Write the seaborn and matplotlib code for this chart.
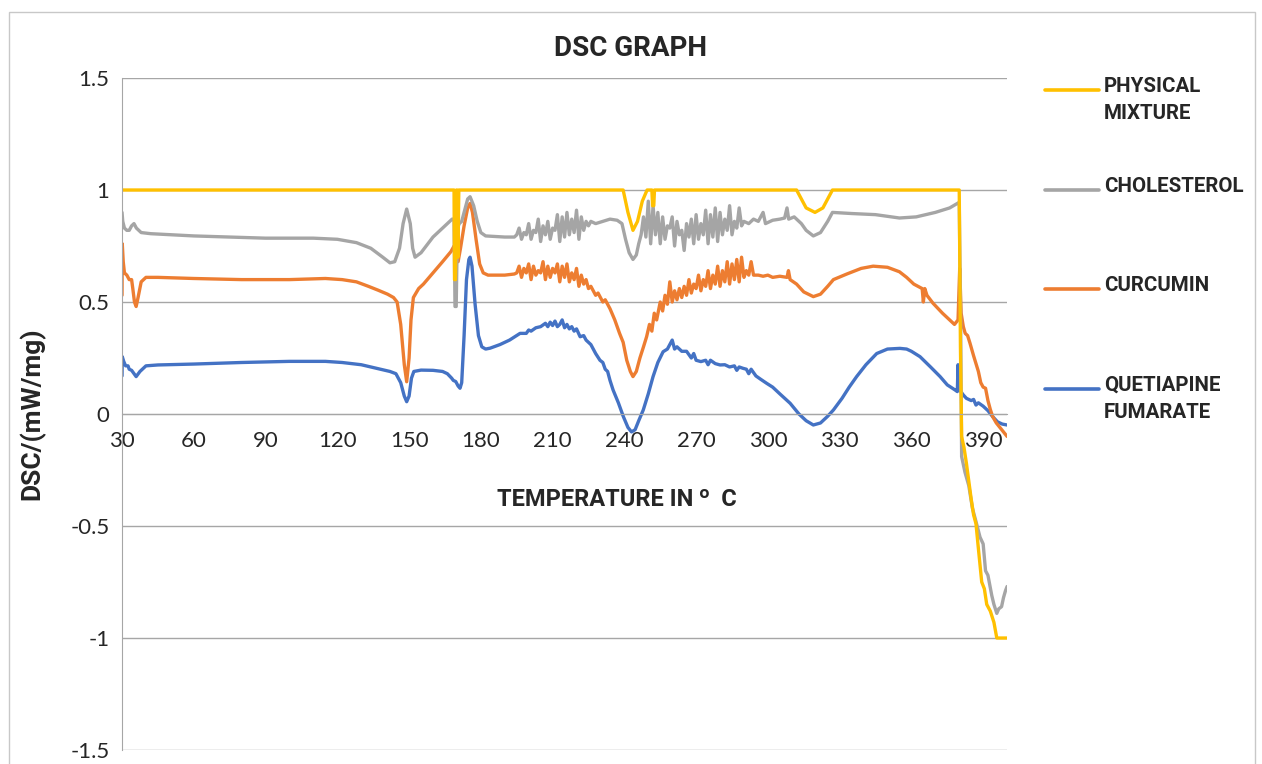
import pandas as pd
import matplotlib.pyplot as plt
import seaborn as sns
from matplotlib.lines import Line2D
from matplotlib.patches import Rectangle

# ---- data (temperature in C, DSC in mW/mg) ----
pm_temp = [30, 168.8, 169.0, 169.4, 169.8, 170.0, 170.4, 170.8, 239.5, 241.5, 243.6, 245.5, 247.5,
           249.5, 251.5, 251.8, 252.3, 252.6, 312, 314, 316, 319.7, 323, 325, 327, 380.0, 380.5, 381,
           382, 383, 384, 385, 386, 387, 388, 389.4, 390.5, 391.5, 393, 394.5, 395.7, 400]
pm_dsc = [1, 1, 0.6, 0.6, 1, 1, 0.7, 1, 1, 0.9, 0.82, 0.86, 0.95,
          1, 1, 0.93, 0.93, 1, 1, 0.96, 0.92, 0.9, 0.92, 0.96, 1, 1, 0.3, -0.1,
          -0.15, -0.22, -0.3, -0.38, -0.45, -0.49, -0.6, -0.75, -0.78, -0.85, -0.88, -0.93, -1.0, -1.0]

chol_temp = [30, 30.3, 31, 32, 33, 34, 35, 36, 38, 42, 60, 90, 110, 120, 128, 134, 139, 142, 144, 146,
             147.5, 149, 150.5, 151.5, 152.5, 155, 160, 164, 168, 168.8, 169.2, 169.7, 170.2, 171, 172,
             173, 174.5, 175.5, 177, 178.5, 180, 182, 190, 194,
             195, 196, 197, 198, 199, 200, 201, 202, 203, 204, 205, 206, 207, 208, 209, 210, 211, 212,
             213, 214, 215, 216, 217, 218, 219, 220, 221, 222, 223, 224, 225, 226, 228, 231, 234, 237,
             239, 240.5, 242, 243.6, 245, 246, 247, 248, 249, 250, 251, 252, 253, 254, 255, 256, 257,
             258, 259, 260, 261, 262, 263, 264, 265, 266, 267, 268, 269, 270, 271, 272, 273, 274, 275,
             276, 277, 278, 279, 280, 281, 282, 283, 284, 285, 286, 287, 288, 289, 290, 292, 294, 296,
             298, 299, 302, 305, 307, 308, 308.7, 311, 314, 316, 319, 322, 325, 327, 335, 345, 355, 362,
             370, 376, 380, 380.6, 381, 382.4, 384, 385.5, 387, 388.7, 390, 391, 392, 393.6, 394.5,
             395.7, 396.5, 397.7, 398.5, 399.3, 400]
chol_dsc = [0.90, 0.86, 0.83, 0.82, 0.82, 0.84, 0.85, 0.83, 0.81, 0.805, 0.795, 0.785, 0.785, 0.78,
            0.765, 0.74, 0.70, 0.675, 0.68, 0.74, 0.85, 0.915, 0.85, 0.74, 0.70, 0.72, 0.79, 0.83,
            0.87, 0.87, 0.48, 0.48, 0.83, 0.85, 0.86, 0.90, 0.96, 0.97, 0.93, 0.86, 0.81, 0.795,
            0.79, 0.79,
            0.80, 0.83, 0.78, 0.81, 0.80, 0.85, 0.78, 0.82, 0.81, 0.87, 0.77, 0.84, 0.80, 0.86, 0.78,
            0.83, 0.82, 0.89, 0.77, 0.88, 0.79, 0.90, 0.80, 0.87, 0.81, 0.91, 0.78, 0.88, 0.82, 0.86,
            0.84, 0.86, 0.85, 0.86, 0.87, 0.865, 0.85, 0.78, 0.72, 0.69, 0.71, 0.76, 0.80, 0.88, 0.79,
            0.95, 0.76, 0.93, 0.80, 0.90, 0.76, 0.88, 0.78, 0.84, 0.83, 0.88, 0.75, 0.86, 0.80, 0.82,
            0.73, 0.85, 0.79, 0.87, 0.76, 0.89, 0.78, 0.85, 0.80, 0.91, 0.76, 0.89, 0.79, 0.92, 0.77,
            0.90, 0.80, 0.87, 0.82, 0.93, 0.80, 0.86, 0.83, 0.92, 0.84, 0.86, 0.85, 0.87, 0.86, 0.90,
            0.85, 0.865, 0.87, 0.875, 0.92, 0.87, 0.88, 0.85, 0.82, 0.795, 0.81, 0.86, 0.90, 0.895,
            0.89, 0.875, 0.88, 0.90, 0.92, 0.945, 0.4, -0.19, -0.26, -0.32, -0.42, -0.48, -0.55,
            -0.58, -0.70, -0.72, -0.81, -0.85, -0.89, -0.87, -0.86, -0.82, -0.79, -0.77]

curc_temp = [30, 30.1, 30.5, 31, 32, 33, 34, 34.5, 35.2, 35.9, 36.7, 38, 40, 45, 60, 80, 100, 115, 122,
             128, 133, 137, 141, 143.5, 145, 146.5, 148, 149, 150, 150.8, 151.8, 154, 156, 160, 164,
             167.5, 168.8, 169.5, 170.5, 171.5, 173, 174.5, 175.5, 176.5, 178, 179.5, 181, 183, 190,
             194, 195, 196, 197, 198, 199, 200, 201, 202, 203, 204, 205, 206, 207, 208, 209, 210, 211,
             212, 213, 214, 215, 216, 217, 218, 219, 220, 221, 222, 223, 224, 225, 226, 228, 229, 231,
             232, 234, 236, 238, 239.5, 241, 242.5, 243.6, 245, 246.5, 248, 249.3, 250.5, 251.5, 252.5,
             253.5, 255, 256, 257, 258, 259, 260, 261, 262, 263, 264, 265, 266, 267, 268, 269, 270, 271,
             272, 273, 274, 275, 276, 277, 278, 279, 280, 281, 282, 283, 284, 285, 286, 287, 288, 289,
             290, 291, 292, 293, 294, 296, 298, 300, 302, 305, 308, 308.6, 309.3, 312, 315, 319, 322,
             325, 327.4, 333, 339, 344, 350, 355, 358, 361, 364.5, 365, 365.6, 366.5, 369, 373, 376,
             378, 379.5, 380.2, 380.8, 381.7, 382.5, 383.5, 384.5, 386, 388, 389, 390, 391, 392, 393,
             394, 395.5, 397, 398.5, 400]
curc_dsc = [0.53, 0.76, 0.68, 0.63, 0.62, 0.60, 0.60, 0.56, 0.50, 0.48, 0.52, 0.59, 0.61, 0.61, 0.605,
            0.60, 0.60, 0.605, 0.60, 0.59, 0.57, 0.553, 0.535, 0.52, 0.50, 0.40, 0.22, 0.144, 0.25,
            0.42, 0.52, 0.56, 0.58, 0.63, 0.68, 0.725, 0.75, 0.74, 0.68, 0.74, 0.84, 0.92, 0.94, 0.90,
            0.78, 0.67, 0.63, 0.62, 0.62, 0.625, 0.63, 0.66, 0.61, 0.65, 0.63, 0.67, 0.60, 0.66, 0.62,
            0.64, 0.63, 0.68, 0.60, 0.66, 0.61, 0.65, 0.63, 0.67, 0.59, 0.66, 0.61, 0.67, 0.59, 0.63,
            0.60, 0.65, 0.57, 0.62, 0.58, 0.60, 0.56, 0.57, 0.53, 0.54, 0.50, 0.51, 0.47, 0.42, 0.36,
            0.32, 0.24, 0.19, 0.167, 0.19, 0.25, 0.30, 0.345, 0.40, 0.37, 0.45, 0.42, 0.50, 0.46, 0.53,
            0.49, 0.59, 0.50, 0.55, 0.51, 0.56, 0.52, 0.57, 0.53, 0.60, 0.54, 0.58, 0.56, 0.62, 0.55,
            0.60, 0.57, 0.64, 0.56, 0.62, 0.58, 0.66, 0.57, 0.64, 0.59, 0.68, 0.58, 0.67, 0.60, 0.69,
            0.59, 0.70, 0.61, 0.64, 0.62, 0.68, 0.62, 0.62, 0.615, 0.62, 0.61, 0.615, 0.61, 0.64, 0.60,
            0.58, 0.545, 0.524, 0.535, 0.57, 0.60, 0.625, 0.65, 0.66, 0.655, 0.635, 0.61, 0.58, 0.56,
            0.50, 0.56, 0.53, 0.495, 0.45, 0.42, 0.40, 0.42, 0.65, 0.45, 0.39, 0.36, 0.35, 0.316, 0.26,
            0.19, 0.14, 0.12, 0.115, 0.06, 0.02, -0.012, -0.04, -0.06, -0.08, -0.10]

quet_temp = [30, 30.1, 30.7, 31.5, 32.5, 33, 34, 35.9, 37.5, 40, 45, 60, 80, 100, 115, 122, 130, 136.5,
             142, 144.5, 146.5, 148, 149, 150, 151, 152, 155, 160, 164, 166, 167.8, 168.5, 169.5, 170.5,
             171.3, 172, 173, 174, 175, 175.5, 176.3, 177.6, 179, 180.4, 182, 183.9, 188, 192, 196.4,
             199, 200, 201, 203, 205, 207, 208, 209, 210, 211, 212, 213, 214, 215, 216, 217, 218, 219,
             220, 221.5, 223, 224, 226, 228, 229.8, 231, 232, 233, 234, 235.3, 237.5, 239.6, 241.5, 243,
             244.5, 246, 247.9, 250, 252, 254, 256.2, 258, 259, 260, 261, 262, 264, 266, 268, 269, 270,
             272, 274, 275, 276, 278, 280, 282, 284, 286, 287, 288, 289.6, 291, 292, 293, 295, 297,
             299.5, 302, 305, 309.3, 313, 316, 319, 322, 325, 327.4, 331, 334, 337.1, 341, 345.5, 350,
             355.2, 358, 360, 363.6, 368, 372, 375, 378.3, 379.2, 379.5, 380.0, 381.7, 383, 385, 386,
             387, 388, 390, 392, 394, 396, 398, 400]
quet_dsc = [0.17, 0.256, 0.235, 0.215, 0.215, 0.20, 0.195, 0.167, 0.19, 0.215, 0.219, 0.223, 0.23, 0.235,
            0.235, 0.23, 0.22, 0.204, 0.19, 0.18, 0.14, 0.08, 0.055, 0.08, 0.16, 0.19, 0.196, 0.195,
            0.19, 0.18, 0.16, 0.15, 0.145, 0.125, 0.115, 0.14, 0.35, 0.60, 0.69, 0.70, 0.66, 0.49, 0.35,
            0.30, 0.29, 0.294, 0.31, 0.33, 0.36, 0.36, 0.375, 0.37, 0.385, 0.39, 0.405, 0.39, 0.41,
            0.395, 0.415, 0.39, 0.40, 0.42, 0.385, 0.40, 0.38, 0.39, 0.37, 0.38, 0.345, 0.35, 0.33,
            0.31, 0.27, 0.24, 0.23, 0.20, 0.19, 0.15, 0.107, 0.05, -0.012, -0.06, -0.08, -0.07, -0.03,
            0.018, 0.09, 0.167, 0.23, 0.278, 0.29, 0.31, 0.33, 0.29, 0.30, 0.28, 0.28, 0.25, 0.27, 0.24,
            0.234, 0.24, 0.22, 0.24, 0.225, 0.219, 0.22, 0.21, 0.215, 0.195, 0.21, 0.204, 0.20, 0.18,
            0.20, 0.17, 0.155, 0.137, 0.12, 0.09, 0.048, 0.0, -0.03, -0.049, -0.04, -0.01, 0.018, 0.07,
            0.12, 0.167, 0.22, 0.27, 0.29, 0.293, 0.29, 0.28, 0.256, 0.21, 0.167, 0.13, 0.107, 0.10,
            0.22, 0.11, 0.085, 0.07, 0.06, 0.065, 0.04, 0.05, 0.035, 0.015, -0.012, -0.035, -0.045,
            -0.049]

# drawing order (last on top) and legend order
draw_order = ["QUETIAPINE\nFUMARATE", "CURCUMIN", "CHOLESTEROL", "PHYSICAL\nMIXTURE"]
legend_order = ["PHYSICAL\nMIXTURE", "CHOLESTEROL", "CURCUMIN", "QUETIAPINE\nFUMARATE"]
colors = {"PHYSICAL\nMIXTURE": "#FFC000", "CHOLESTEROL": "#A5A5A5",
          "CURCUMIN": "#ED7D31", "QUETIAPINE\nFUMARATE": "#4472C4"}

frames = []
for name, t, v in [("PHYSICAL\nMIXTURE", pm_temp, pm_dsc), ("CHOLESTEROL", chol_temp, chol_dsc),
                   ("CURCUMIN", curc_temp, curc_dsc), ("QUETIAPINE\nFUMARATE", quet_temp, quet_dsc)]:
    frames.append(pd.DataFrame({"temp": t, "dsc": v, "sample": name}))
df = pd.concat(frames, ignore_index=True)

sns.set_style("white")
plt.rcParams['font.family'] = ['Lato', 'DejaVu Sans']
bold_font = ['Roboto', 'DejaVu Sans']

fig = plt.figure(figsize=(12.62, 7.64), dpi=100)
ax = fig.add_axes([0.0967, 0.0183, 0.7013, 0.8796])

sns.lineplot(data=df, x="temp", y="dsc", hue="sample", hue_order=draw_order, palette=colors,
             estimator=None, sort=False, linewidth=2.4, legend=False, ax=ax)

grid_col = "#a6a6a6"
ax.set_xlim(30, 400)
ax.set_ylim(-1.5, 1.5)
ax.set_xticks(range(30, 391, 30))
ax.set_yticks([-1.5, -1, -0.5, 0, 0.5, 1, 1.5])
ax.set_yticklabels(["-1.5", "-1", "-0.5", "0", "0.5", "1", "1.5"])
ax.yaxis.grid(True, color=grid_col, lw=1)
ax.set_axisbelow(True)
ax.spines['top'].set_visible(False)
ax.spines['right'].set_visible(False)
ax.spines['left'].set_color(grid_col)
ax.spines['bottom'].set_position(('data', 0))
ax.spines['bottom'].set_color(grid_col)
ax.tick_params(axis='x', length=0, pad=12, labelsize=16)
ax.tick_params(axis='y', length=0, pad=9, labelsize=16)
ax.set_xlabel("")
ax.set_ylabel("")

fig.text(0.5, 1 - 48 / 764, "DSC GRAPH", ha='center', va='center', fontsize=20,
         fontweight='bold', family=bold_font)
fig.text(32 / 1262, 1 - 414 / 764, "DSC/(mW/mg)", rotation=90, ha='center', va='center',
         fontsize=19, fontweight='bold', family=bold_font)
fig.text(617 / 1262, 1 - 500 / 764, "TEMPERATURE IN ᵒ  C", ha='center', va='center',
         fontsize=17, fontweight='bold', family=bold_font)

# legend on the right, line level with the first text line
legend_y = [90, 190, 289, 389]
for name, ypx in zip(legend_order, legend_y):
    yf = 1 - ypx / 764
    fig.add_artist(Line2D([1045 / 1262, 1099 / 1262], [yf, yf], color=colors[name], lw=2.6,
                          transform=fig.transFigure))
    fig.text(1104 / 1262, yf + 13 / 764, name, ha='left', va='top', fontsize=14.8,
             fontweight='bold', family=bold_font, linespacing=1.55)

fig.add_artist(Rectangle((9 / 1262, -0.01), (1255 - 9) / 1262, 1.01 - 12 / 764, fill=False,
                         edgecolor="#c8c8c8", lw=1, transform=fig.transFigure))

fig.savefig("out.png", dpi=100)
